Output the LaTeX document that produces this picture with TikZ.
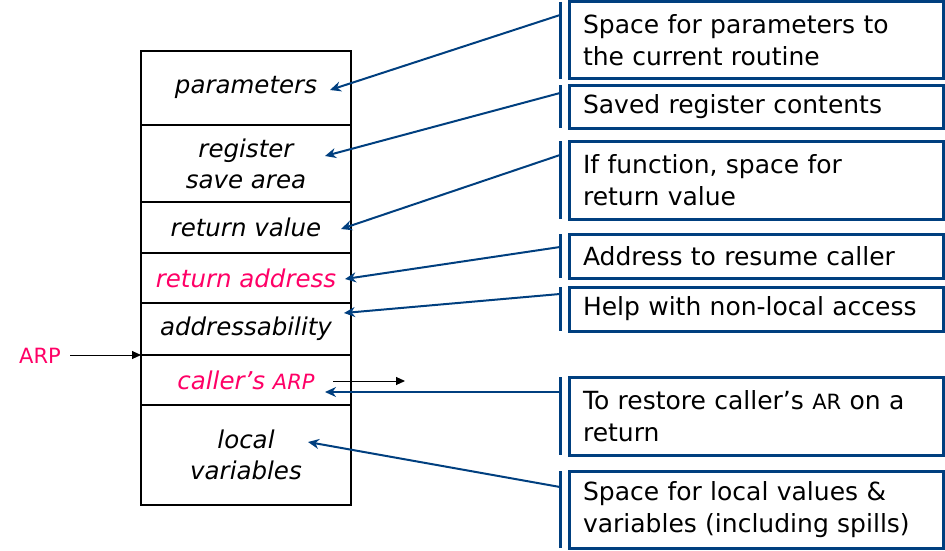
\documentclass[tikz,border=0pt]{standalone}
\usepackage{fontspec}
\setmainfont{DejaVu Sans}
\usetikzlibrary{arrows.meta,calc}
\definecolor{navy}{RGB}{0,63,127}
\definecolor{hot}{RGB}{255,0,102}
\begin{document}
\begin{tikzpicture}[x=1pt,y=-1pt,
  cell/.style={draw=black,line width=1.5pt,minimum width=210pt,inner sep=0pt,outer sep=0pt,
    align=center,font=\fontsize{24.5}{31}\selectfont\itshape},
  note/.style={draw=navy,line width=3pt,minimum width=374pt,text width=346pt,inner sep=0pt,outer sep=0pt,
    align=left,font=\fontsize{25}{32}\selectfont},
  bar/.style={draw=navy,line width=3pt},
  callout/.style={draw=navy,line width=2pt,-{Stealth[length=11pt,width=10pt]}},
  thin/.style={draw=black,line width=1pt,-{Triangle[length=9pt,width=8pt]}}]
\useasboundingbox (0,0) rectangle (945,551);
% stack cells
\node[cell,minimum height=74pt] (c1) at (246,88) {parameters\rule[-6pt]{0pt}{0pt}};
\node[cell,minimum height=77pt] (c2) at (246,163.5) {register\\save area};
\node[cell,minimum height=51pt] (c3) at (246,227.5) {return value};
\node[cell,minimum height=50pt,text=hot] (c4) at (246,278) {return address};
\node[cell,minimum height=52pt] (c5) at (246,329) {addressability};
\node[cell,minimum height=50pt,text=hot] (c6) at (246,380) {caller’s {\fontsize{21}{24}\selectfont ARP}};
\node[cell,minimum height=100pt] (c7) at (246,455) {local\\variables};
\draw[line width=2.5pt] (c1.north west) rectangle (c7.south east);
% ARP pointer
\node[text=hot,font=\fontsize{21}{24}\selectfont] (arp) at (40,356) {ARP};
\coordinate (arpend) at (70,355);
\draw[thin] (arpend) -- (c6.north west);
\coordinate (cs) at (333,381);
\coordinate (ce) at (405,381);
\draw[thin] (cs) -- (ce);
% notes
\node[note,minimum height=77pt] (n1) at (756,40.5) {Space for parameters to\\the current routine};
\node[note,minimum height=43pt] (n2) at (756,106.5) {Saved register contents};
\node[note,minimum height=78pt] (n3) at (756,180) {If function, space for\\return value};
\node[note,minimum height=44pt] (n4) at (756,256) {Address to resume caller};
\node[note,minimum height=44pt] (n5) at (756,309) {Help with non-local access};
\node[note,minimum height=78pt] (n6) at (756,416) {To restore caller’s {\fontsize{21}{24}\selectfont AR} on a\\return};
\node[note,minimum height=77pt] (n7) at (756,509.5) {Space for local values \&\\variables (including spills)};
% bars
\foreach \n in {n1,n2,n3,n4,n5,n6,n7}{
  \draw[bar] ($(\n.north west)+(-9,0)$) -- ($(\n.south west)+(-9,0)$);
}
% callout arrows
\coordinate (s1) at (560,15);  \coordinate (t1) at (330,90);
\coordinate (s2) at (560,93);  \coordinate (t2) at (325,156);
\coordinate (s3) at (560,155); \coordinate (t3) at (341,229);
\coordinate (s4) at (560,247); \coordinate (t4) at (345,279);
\coordinate (s5) at (560,294); \coordinate (t5) at (344,313);
\coordinate (s6) at (560,392); \coordinate (t6) at (325,392);
\coordinate (s7) at (560,487); \coordinate (t7) at (308,442);
\foreach \i in {1,...,7}{ \draw[callout] (s\i) -- (t\i); }
\end{tikzpicture}
\end{document}
